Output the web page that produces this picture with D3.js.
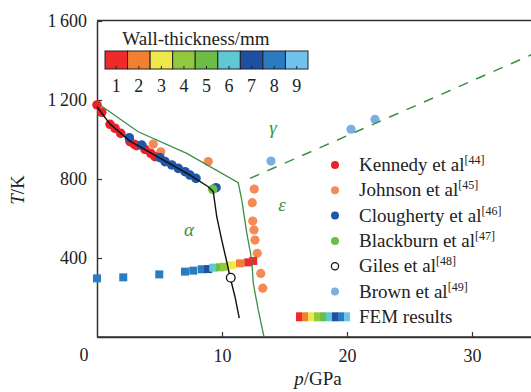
<!DOCTYPE html>
<html>
<head>
<meta charset="utf-8">
<script src="https://cdn.jsdelivr.net/npm/d3@7"></script>
<style>
  body { margin: 0; background: #fff; }
</style>
</head>
<body>
<div id="chart"></div>
<script>
// ---- data ----
var thickColors = ["#ee2a2a", "#f28030", "#eee84a", "#92c83e", "#6bbd45", "#5ec8d4", "#1f4fa0", "#2b7bc0", "#6ec2ec"];
var thickLabels = ["1", "2", "3", "4", "5", "6", "7", "8", "9"];

var kennedy = [[0.0, 1175], [0.38, 1138], [1.04, 1077], [1.44, 1057], [1.9, 1031], [2.64, 989],
               [3.0, 975], [3.18, 969], [3.84, 950], [4.3, 930], [4.64, 913]];
var johnson = [[4.5, 977], [5.1, 938], [8.9, 888], [12.58, 749], [12.42, 680], [12.46, 587],
               [12.56, 542], [12.64, 491], [12.82, 424], [13.1, 322], [13.26, 247]];
var clougherty = [[2.58, 1009], [3.58, 972], [5.04, 908], [5.44, 888], [5.98, 871], [6.5, 854],
                  [7.04, 837], [7.44, 820], [7.92, 803], [9.52, 756]];
var blackburn = [[9.26, 748]];
var giles = [[10.7, 300]];
var brown = [[13.92, 891], [20.32, 1052], [22.24, 1102]];
// FEM: pressure, temperature, wall thickness (mm)
var femP = [0.0, 2.1, 4.98, 7.04, 7.7, 8.38, 8.9, 9.3, 9.84, 10.16, 10.78, 11.44, 12.1, 12.5];
var femT = [297, 302, 317, 331, 336, 343, 344, 351, 353, 356, 363, 373, 378, 385];
var femW = [8, 8, 8, 8, 8, 8, 7, 6, 5, 4, 3, 2, 1, 1];

// phase boundaries
var boundarySolid = [[0.24, 1175], [3.3, 1039], [7.18, 930], [11.3, 781], [11.58, 694], [11.98, 527],
                     [12.38, 390], [12.5, 272], [12.9, 137], [13.36, 0]];
var boundaryDashed = [[12.24, 803], [35, 1436]];
var gilesFit = [[0.0, 1166], [1.04, 1078], [2.64, 992], [5.04, 906], [7.44, 820], [8.9, 761],
                [9.3, 736], [9.58, 609], [9.98, 491], [10.38, 381], [10.64, 305], [11.04, 204], [11.38, 95]];

var xTicks = [10, 20, 30];
var yTicks = [400, 800, 1200, 1600];

var legendItems = [
  {name: "Kennedy et al", ref: "[44]", color: "#e8222a", type: "dot"},
  {name: "Johnson et al", ref: "[45]", color: "#f58a55", type: "dot"},
  {name: "Clougherty et al", ref: "[46]", color: "#1f56a8", type: "dot"},
  {name: "Blackburn et al", ref: "[47]", color: "#6cbe45", type: "dot"},
  {name: "Giles et al", ref: "[48]", color: "#000", type: "open"},
  {name: "Brown et al", ref: "[49]", color: "#7aafe0", type: "dot"},
  {name: "FEM results", ref: "", color: null, type: "fem"}
];

// ---- chart ----
var W = 531, H = 392;
var FONT = "'Liberation Serif', Tinos, 'Times New Roman', 'DejaVu Serif', serif";
var margin = {top: 20, left: 97, bottom: 55};
var svg = d3.select("#chart").append("svg").attr("width", W).attr("height", H)
  .attr("font-family", FONT);

var x = d3.scaleLinear().domain([0, 35]).range([margin.left, margin.left + 35 * 12.5]);
var y = d3.scaleLinear().domain([0, 1600]).range([337, 21]);

var green = "#3c8f45";

// axes
var yAxis = svg.append("g")
  .attr("transform", "translate(" + margin.left + ",0)")
  .call(d3.axisLeft(y).tickValues(yTicks).tickSizeInner(-5).tickSizeOuter(0)
    .tickPadding(10).tickFormat(function (d) { return d >= 1000 ? Math.floor(d / 1000) + "\u2009" + d3.format("03d")(d % 1000) : d; }));
var xAxis = svg.append("g")
  .attr("transform", "translate(0,337)")
  .call(d3.axisBottom(x).tickValues(xTicks).tickSizeInner(-5).tickSizeOuter(0).tickPadding(12));
[xAxis, yAxis].forEach(function (g) {
  g.attr("font-family", FONT).attr("font-size", 18);
  g.select(".domain").attr("stroke", "#333").attr("stroke-width", 1.5);
  g.selectAll(".tick line").attr("stroke", "#333").attr("stroke-width", 1.2);
  g.selectAll("text").attr("fill", "#222");
});
svg.append("text").attr("x", 84).attr("y", 361).attr("text-anchor", "middle")
  .attr("font-size", 18).attr("fill", "#222").text("0");
// frame lines
svg.append("line").attr("x1", margin.left).attr("x2", W).attr("y1", 20.5).attr("y2", 20.5)
  .attr("stroke", "#333").attr("stroke-width", 1.5);
svg.append("line").attr("x1", margin.left).attr("x2", W).attr("y1", 337).attr("y2", 337)
  .attr("stroke", "#333").attr("stroke-width", 1.5);

// axis titles
var yt = svg.append("text").attr("transform", "translate(24,190) rotate(-90)")
  .attr("text-anchor", "middle").attr("font-size", 19).attr("fill", "#222");
yt.append("tspan").attr("font-style", "italic").text("T");
yt.append("tspan").text("/K");
var xt = svg.append("text").attr("x", 318).attr("y", 385).attr("text-anchor", "middle")
  .attr("font-size", 19).attr("fill", "#222");
xt.append("tspan").attr("font-style", "italic").text("p");
xt.append("tspan").text("/GPa");

// points
function dots(data, color, r) {
  svg.append("g").selectAll("circle").data(data).enter().append("circle")
    .attr("cx", function (d) { return x(d[0]); })
    .attr("cy", function (d) { return y(d[1]); })
    .attr("r", r).attr("fill", color);
}
dots(johnson, "#f58a55", 4.6);
dots(kennedy, "#e8222a", 4.8);
dots(clougherty, "#1f56a8", 4.8);
dots(blackburn, "#6cbe45", 4.8);
dots(brown, "#7aafe0", 4.6);

// FEM squares
svg.append("g").selectAll("rect").data(femP).enter().append("rect")
  .attr("x", function (d) { return x(d) - 4; })
  .attr("y", function (d, i) { return y(femT[i]) - 4; })
  .attr("width", 8).attr("height", 8)
  .attr("fill", function (d, i) { return thickColors[femW[i] - 1]; });

// lines
var line = d3.line().x(function (d) { return x(d[0]); }).y(function (d) { return y(d[1]); });
svg.append("path").attr("d", line(boundarySolid)).attr("fill", "none").attr("stroke", green).attr("stroke-width", 1.3);
svg.append("path").attr("d", line(boundaryDashed)).attr("fill", "none").attr("stroke", green)
  .attr("stroke-width", 1.5).attr("stroke-dasharray", "10,9");
svg.append("path").attr("d", line(gilesFit)).attr("fill", "none")
  .attr("stroke", "#111").attr("stroke-width", 1.4);

svg.append("g").selectAll("circle").data(giles).enter().append("circle")
  .attr("cx", function (d) { return x(d[0]); })
  .attr("cy", function (d) { return y(d[1]); })
  .attr("r", 4.3).attr("fill", "#fff").attr("stroke", "#111").attr("stroke-width", 1.3);

// phase labels
[["\u03b1", 189, 236], ["\u03b5", 282, 211], ["\u03b3", 273, 134]].forEach(function (l) {
  svg.append("text").attr("x", l[1]).attr("y", l[2]).attr("text-anchor", "middle")
    .attr("font-size", 19).attr("font-style", "italic").attr("fill", green).text(l[0]);
});

// colour bar
var cb = d3.scaleBand().domain(thickLabels).range([105, 308]);
var cbg = svg.append("g");
cbg.append("text").attr("x", 196).attr("y", 45).attr("text-anchor", "middle")
  .attr("font-size", 19).attr("fill", "#222").text("Wall-thickness/mm");
cbg.selectAll("rect").data(thickLabels).enter().append("rect")
  .attr("x", function (d) { return cb(d); }).attr("y", 51)
  .attr("width", cb.bandwidth()).attr("height", 18)
  .attr("fill", function (d, i) { return thickColors[i]; })
  .attr("stroke", "#222").attr("stroke-width", 1);
cbg.selectAll("line").data(thickLabels).enter().append("line")
  .attr("x1", function (d) { return cb(d) + cb.bandwidth() / 2; })
  .attr("x2", function (d) { return cb(d) + cb.bandwidth() / 2; })
  .attr("y1", 69).attr("y2", 66).attr("stroke", "#222").attr("stroke-width", 1);
cbg.selectAll("text.lab").data(thickLabels).enter().append("text").attr("class", "lab")
  .attr("x", function (d) { return cb(d) + cb.bandwidth() / 2; }).attr("y", 92)
  .attr("text-anchor", "middle").attr("font-size", 18).attr("fill", "#222").text(function (d) { return d; });

// legend
var lg = svg.append("g");
legendItems.forEach(function (it, i) {
  var yy = 165 + i * 25.3;
  if (it.type === "dot") {
    lg.append("circle").attr("cx", 335).attr("cy", yy).attr("r", 4).attr("fill", it.color);
  } else if (it.type === "open") {
    lg.append("circle").attr("cx", 335).attr("cy", yy).attr("r", 3.6).attr("fill", "#fff")
      .attr("stroke", "#111").attr("stroke-width", 1.2);
  } else {
    thickColors.forEach(function (c, j) {
      lg.append("rect").attr("x", 296 + j * 6).attr("y", yy - 4.5).attr("width", 6).attr("height", 9).attr("fill", c);
    });
  }
  var t = lg.append("text").attr("x", 359).attr("y", yy + 6).attr("font-size", 19).attr("fill", "#222").text(it.name);
  if (it.ref) t.append("tspan").attr("dy", -7).attr("font-size", 12).text(it.ref);
});
</script>
</body>
</html>
